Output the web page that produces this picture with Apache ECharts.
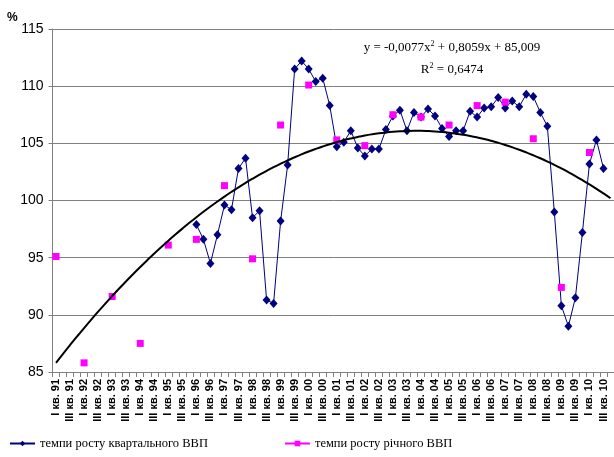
<!DOCTYPE html>
<html>
<head>
<meta charset="utf-8">
<script src="https://cdn.jsdelivr.net/npm/echarts@6/dist/echarts.min.js"></script>
<style>
html,body{margin:0;padding:0;background:#fff;}
#chart{width:614px;height:457px;}
</style>
</head>
<body>
<div id="chart"></div>
<script>
// ---- data ----
const years = ['91','92','93','94','95','96','97','98','99','00','01','02','03','04','05','06','07','08','09','10'];
const quarterNames = ['I','II','III','IV'];
const yTicks = [85, 90, 95, 100, 105, 110, 115];

// annual GDP growth (placed on the I quarter of each year), 1991..2010
const annualGrowth = [95.1, 85.8, 91.6, 87.5, 96.1, 96.6, 101.3, 94.9, 106.6, 110.1,
                      105.3, 104.8, 107.5, 107.3, 106.6, 108.3, 108.6, 105.4, 92.4, 104.2];

// quarterly GDP growth, I кв. 96 .. III кв. 10
const quarterlyStartYear = '96';
const quarterlyGrowth = [
  97.9, 96.6, 94.5, 97.0,      // 96
  99.6, 99.2, 102.8, 103.7,    // 97
  98.5, 99.1, 91.3, 91.0,      // 98
  98.2, 103.1, 111.5, 112.2,   // 99
  111.5, 110.4, 110.7, 108.3,  // 00
  104.7, 105.1, 106.1, 104.6,  // 01
  103.9, 104.5, 104.5, 106.2,  // 02
  107.4, 107.9, 106.1, 107.7,  // 03
  107.3, 108.0, 107.4, 106.3,  // 04
  105.6, 106.1, 106.1, 107.8,  // 05
  107.3, 108.1, 108.2, 109.0,  // 06
  108.1, 108.7, 108.2, 109.3,  // 07
  109.1, 107.7, 106.5, 99.0,   // 08
  90.8, 89.0, 91.5, 97.2,      // 09
  103.2, 105.3, 102.8          // 10
];

// polynomial trend shown on the chart: y = a x^2 + b x + c
const trendCoef = { a: -0.0077, b: 0.8059, c: 85.009 };
const trendLabel = ['y = -0,0077x{sup|2} + 0,8059x + 85,009', 'R{sup|2} = 0,6474'];
const seriesNames = ['темпи росту квартального ВВП', 'темпи росту річного ВВП'];

// ---- build ----
const categories = [];
years.forEach(y => quarterNames.forEach(q => categories.push(q + ' кв. ' + y)));

const qStart = years.indexOf(quarterlyStartYear) * 4;
const quarterlyData = categories.map((_, i) => {
  const k = i - qStart;
  return (k >= 0 && k < quarterlyGrowth.length) ? quarterlyGrowth[k] : null;
});
const annualData = categories.map((_, i) => (i % 4 === 0) ? annualGrowth[i / 4] : null);
const trendData = categories.map((_, i) => {
  const x = i + 1;
  return +(trendCoef.a * x * x + trendCoef.b * x + trendCoef.c).toFixed(3);
});

const chart = echarts.init(document.getElementById('chart'), null, { renderer: 'canvas' });
const gridColor = '#808080';
const supStyle = { fontFamily: 'Liberation Serif', fontSize: 8, verticalAlign: 'top', lineHeight: 16, padding: [0,0,6,0] };
chart.setOption({
  animation: false,
  backgroundColor: '#ffffff',
  grid: { left: 52.5, right: -3.5, top: 29, bottom: 85, containLabel: false },
  xAxis: {
    type: 'category',
    data: categories,
    boundaryGap: true,
    axisLine: { show: true, lineStyle: { color: gridColor, width: 1 } },
    axisTick: { show: true, interval: 0, length: 5, lineStyle: { color: gridColor } },
    axisLabel: {
      interval: 1, rotate: 90, margin: 7,
      fontFamily: 'Liberation Sans', fontWeight: 'bold', fontSize: 11, color: '#000'
    },
    splitLine: { show: false }
  },
  yAxis: {
    type: 'value',
    min: yTicks[0], max: yTicks[yTicks.length - 1], interval: 5,
    axisLine: { show: true, lineStyle: { color: gridColor, width: 1 } },
    axisTick: { show: true, length: 4, lineStyle: { color: gridColor } },
    axisLabel: { margin: 9, fontFamily: 'Liberation Sans', fontSize: 14, color: '#000' },
    splitLine: { show: true, lineStyle: { color: gridColor, width: 1 } }
  },
  legend: {
    left: 4, top: 432, padding: 5,
    itemWidth: 25, itemHeight: 7, itemGap: 76,
    textStyle: { fontFamily: 'Liberation Serif', fontSize: 12.5, color: '#000' },
    data: seriesNames
  },
  graphic: [
    { type: 'text', left: 7, top: 12,
      style: { text: '%', fontFamily: 'Liberation Sans', fontWeight: 'bold', fontSize: 12, fill: '#000' } },
    { type: 'text', x: 452, y: 48,
      style: { text: trendLabel[0], align: 'center', verticalAlign: 'middle',
        fontFamily: 'Liberation Serif', fontSize: 13, fill: '#000', lineHeight: 16,
        rich: { sup: supStyle } } },
    { type: 'text', x: 452, y: 70,
      style: { text: trendLabel[1], align: 'center', verticalAlign: 'middle',
        fontFamily: 'Liberation Serif', fontSize: 13, fill: '#000', lineHeight: 16,
        rich: { sup: supStyle } } }
  ],
  series: [
    {
      name: seriesNames[0], type: 'line', data: quarterlyData, connectNulls: false,
      symbol: 'diamond', symbolSize: [8, 9], showSymbol: true, showAllSymbol: true,
      lineStyle: { color: '#000080', width: 1 },
      itemStyle: { color: '#000080' }, z: 2
    },
    {
      name: seriesNames[1], type: 'line', data: annualData, connectNulls: false,
      symbol: 'rect', symbolSize: 7, showAllSymbol: true,
      lineStyle: { color: '#ff00ff', width: 1 },
      itemStyle: { color: '#ff00ff' }, z: 3
    },
    {
      name: 'trend', type: 'line', data: trendData, smooth: true,
      symbol: 'none', lineStyle: { color: '#000', width: 2 }, z: 4, silent: true
    }
  ]
});
</script>
</body>
</html>
